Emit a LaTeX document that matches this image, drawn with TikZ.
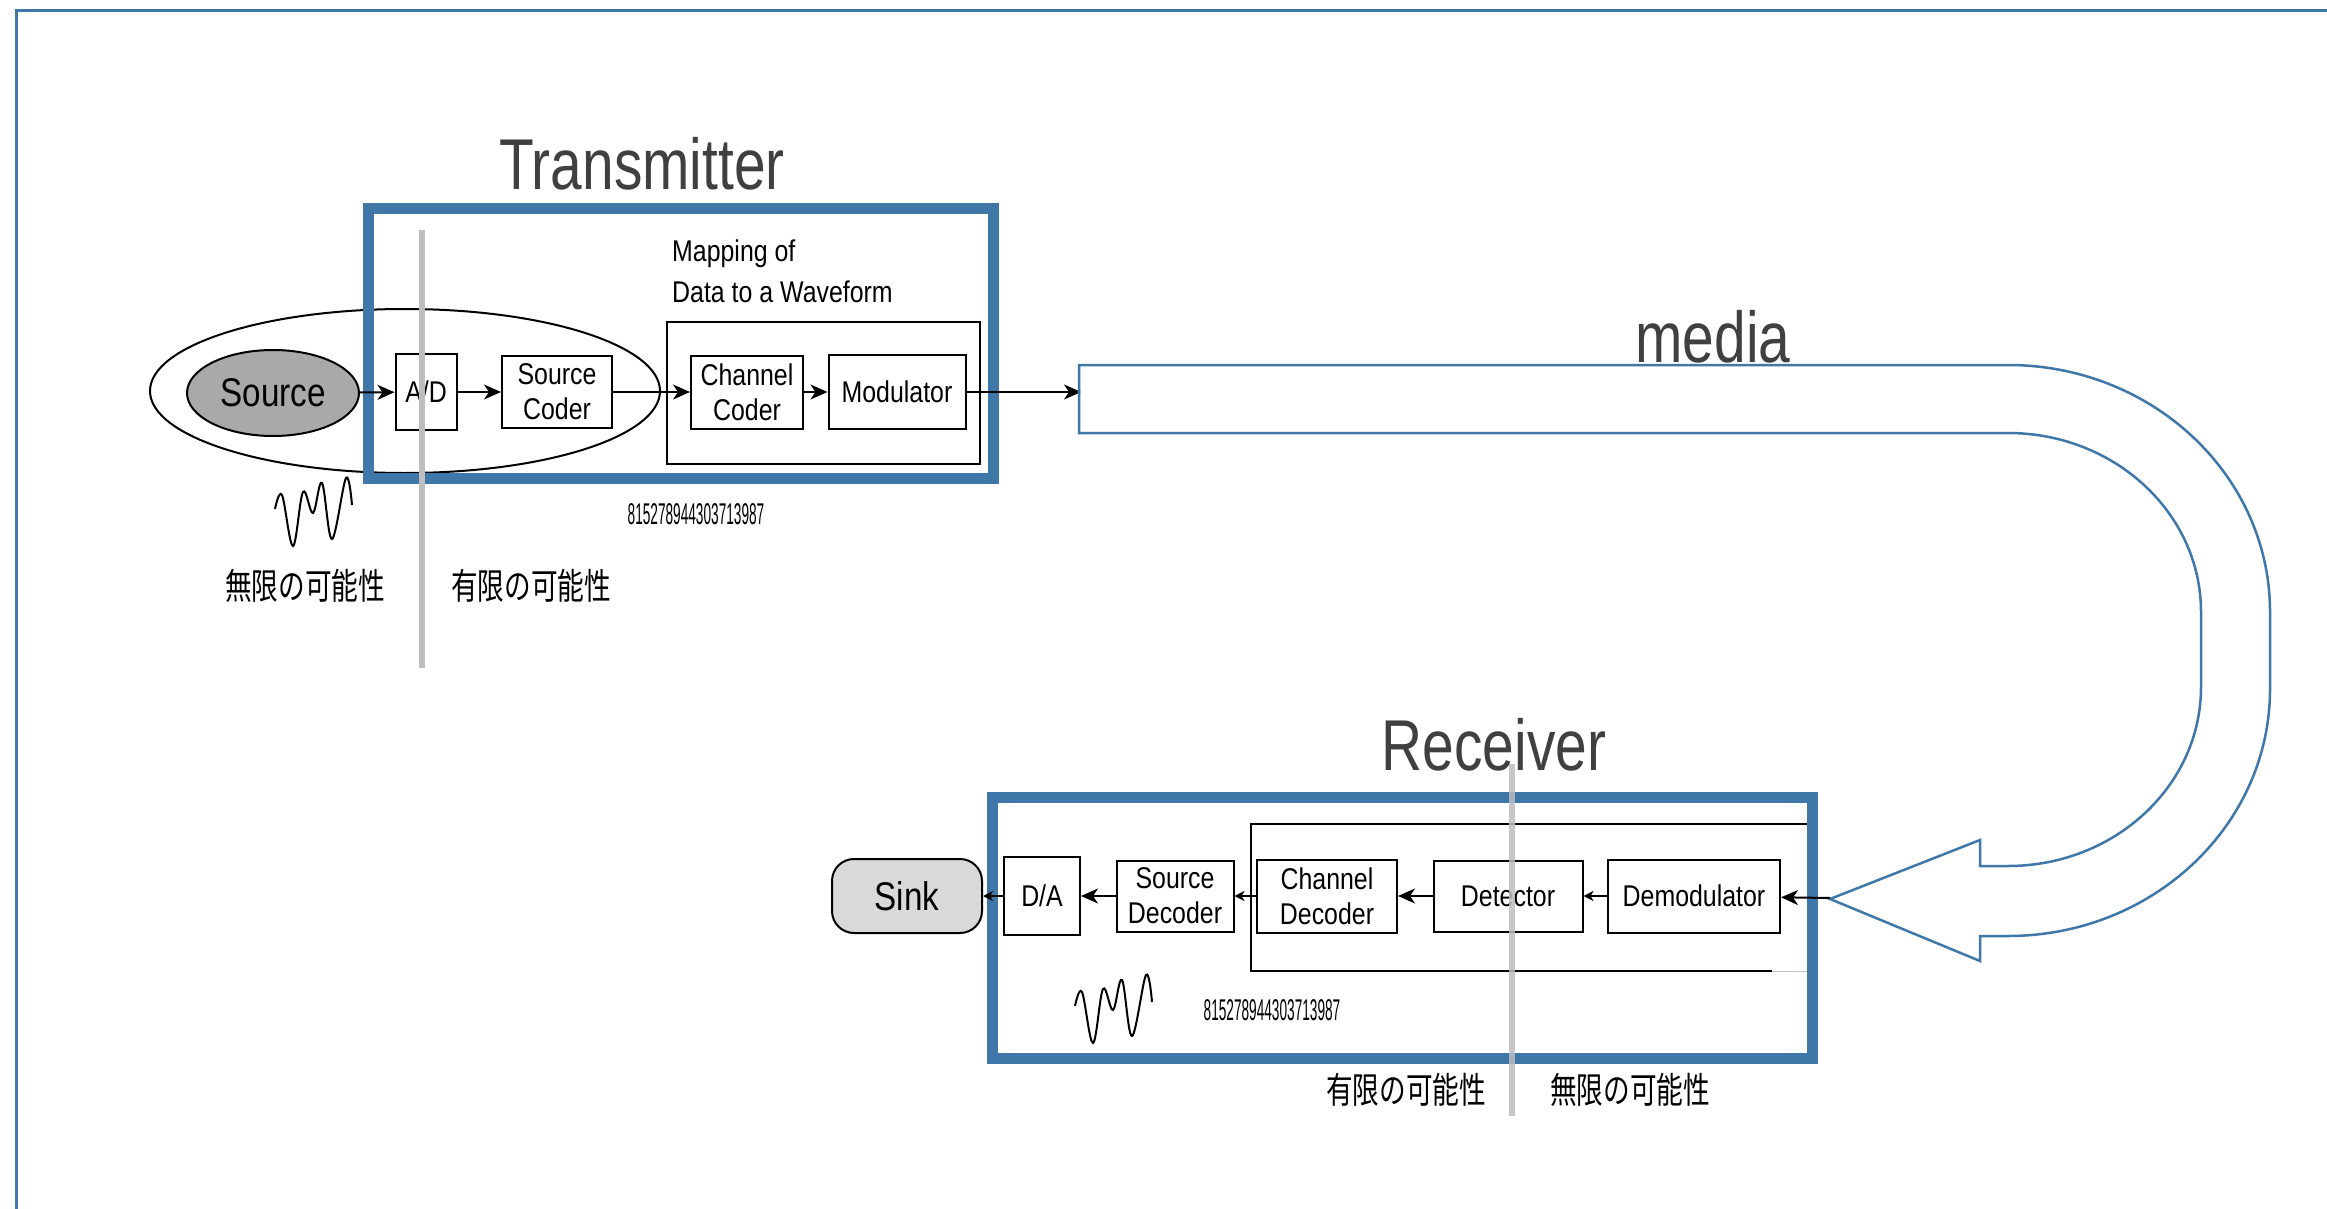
\documentclass[tikz,border=0pt]{standalone}
\usepackage{fontspec}
\setmainfont{Liberation Sans}[FakeStretch=0.83]
\newfontfamily\titlefont{Liberation Sans}[FakeStretch=0.79]
\newfontfamily\jpfont{Noto Sans CJK JP}[FakeStretch=0.74]
\newfontfamily\digfont{Liberation Sans}[FakeStretch=0.455]
\usetikzlibrary{arrows.meta,shapes.geometric}
\definecolor{frameblue}{HTML}{3F78A8}
\definecolor{titlegray}{HTML}{404040}
\definecolor{sepgray}{HTML}{BEBEBE}
\definecolor{srcgray}{HTML}{A9A9A9}
\definecolor{sinkgray}{HTML}{D9D9D9}
\begin{document}
\begin{tikzpicture}[x=1pt,y=-1pt,
  blk/.style={draw, line width=2pt, inner sep=0pt, align=center, font=\fontsize{30}{35}\selectfont},
  arr/.style={line width=2pt, -{Stealth[length=17pt,width=15pt,inset=5pt]}},
  smallarr/.style={line width=2pt, -{Stealth[length=10pt,width=10pt,inset=3pt]}},
  title/.style={font=\titlefont\fontsize{72}{80}\selectfont, text=titlegray, anchor=base, inner sep=0pt},
  jp/.style={font=\jpfont\fontsize{36}{40}\selectfont, inner sep=0pt},
  dig/.style={font=\digfont\fontsize{30}{34}\selectfont, inner sep=0pt},
  wave/.style={line width=2pt},
  bluebox/.style={draw=frameblue, line width=11pt, inner sep=0pt},
  sepline/.style={draw=sepgray, line width=6pt}
]
\useasboundingbox (0,0) rectangle (2327,1209);
\clip (0,0) rectangle (2327,1209);
\fill[white] (0,0) rectangle (2327,1209);

% outer frame
\draw[frameblue, line width=3pt] (16,1230) -- (16,11) -- (2350,11);

% ---------- Transmitter ----------
\node[title] (ttx) at (642,190) {Transmitter};
\node[draw, ellipse, line width=2pt, minimum width=510pt, minimum height=164pt, inner sep=0pt] (scope) at (405,391) {};
\node[ellipse, draw, line width=2pt, fill=srcgray, minimum width=172pt, minimum height=86pt, inner sep=0pt,
      font=\fontsize{40}{44}\selectfont] (src) at (273,393) {Source};
\node[blk, minimum width=61pt, minimum height=76pt] (ad) at (426,392) {A/D};
\node[blk, minimum width=110pt, minimum height=72pt] (sc) at (557,392) {Source\\Coder};
\node[draw, line width=2pt, minimum width=313pt, minimum height=142pt, inner sep=0pt] (mapbox) at (823.5,393) {};
\node[blk, minimum width=112pt, minimum height=73pt] (cc) at (747,392) {Channel\\Coder};
\node[blk, minimum width=137pt, minimum height=74pt] (mod) at (897,392) {Modulator};
\node[font=\fontsize{30}{41}\selectfont, align=left, anchor=west, inner sep=0pt] (maptxt) at (672,271) {Mapping of\\Data to a Waveform};
\node[bluebox, minimum width=625pt, minimum height=269pt] (txbox) at (680.5,343.5) {};

\coordinate (medin) at (1081,392);
\draw[arr] (src) -- (ad);
\draw[arr] (ad) -- (sc);
\draw[arr] (sc) -- (cc);
\draw[arr] (cc) -- (mod);
\draw[arr] (mod) -- (medin);

\draw[wave, shift={(275,509)}] plot[smooth, tension=0.6] coordinates {(0,0) (7,-14) (18,37) (28,-17) (38,4) (47,-26) (57,30) (71,-31) (77,-4)};
\node[dig] (num1) at (696,514) {815278944303713987};
\node[jp] (inf1) at (305,586) {無限の可能性};
\node[jp] (fin1) at (531,586) {有限の可能性};
\draw[sepline] (422,230) -- (422,668);

% ---------- media ----------
\node[title] (tmedia) at (1713,362) {media};
\draw[frameblue, line width=2.5pt, line join=miter]
  (1079,365) -- (2008,365)
  arc[start angle=270, end angle=360, x radius=262, y radius=247]
  -- (2270,689)
  arc[start angle=0, end angle=90, x radius=262, y radius=247]
  -- (1980,936) -- (1980,961) -- (1830,899) -- (1980,840) -- (1980,866) -- (2008,866)
  arc[start angle=90, end angle=0, x radius=193, y radius=179]
  -- (2201,612)
  arc[start angle=0, end angle=-90, x radius=193, y radius=179]
  -- (1079,433) -- cycle;

% ---------- Receiver ----------
\node[title] (trx) at (1494,770) {Receiver};
\draw[line width=2pt] (1807,824) -- (1251,824) -- (1251,971) -- (1772,971);
\draw[line width=1pt, sepgray] (1772,971) -- (1807,971);
\node[blk, minimum width=172pt, minimum height=73pt] (demod) at (1694,896) {Demodulator};
\node[blk, minimum width=149pt, minimum height=71pt] (det) at (1508,896) {Detector};
\node[blk, minimum width=140pt, minimum height=73pt] (chd) at (1327,896) {Channel\\Decoder};
\node[blk, minimum width=117pt, minimum height=71pt] (sdc) at (1175,896) {Source\\Decoder};
\node[blk, minimum width=76pt, minimum height=78pt] (da) at (1042,896) {D/A};
\node[draw, line width=2pt, fill=sinkgray, rounded corners=22pt, minimum width=150pt, minimum height=74pt,
      inner sep=0pt, font=\fontsize{40}{44}\selectfont] (sink) at (907,896) {Sink};
\node[bluebox, minimum width=820pt, minimum height=261pt] (rxbox) at (1402,927.5) {};

\coordinate (medout) at (1830,898);
\draw[arr] (medout) -- (demod);
\draw[smallarr] (demod) -- (det);
\draw[arr] (det) -- (chd);
\draw[smallarr] (chd) -- (sdc);
\draw[arr] (sdc) -- (da);
\draw[smallarr] (da) -- (sink);

\draw[wave, shift={(1075,1006)}] plot[smooth, tension=0.6] coordinates {(0,0) (7,-14) (18,37) (28,-17) (38,4) (47,-26) (57,30) (71,-31) (77,-4)};
\node[dig] (num2) at (1272,1010) {815278944303713987};
\node[jp] (fin2) at (1406,1090) {有限の可能性};
\node[jp] (inf2) at (1630,1090) {無限の可能性};
\draw[sepline, opacity=0.85] (1512,764) -- (1512,1116);
\end{tikzpicture}
\end{document}
